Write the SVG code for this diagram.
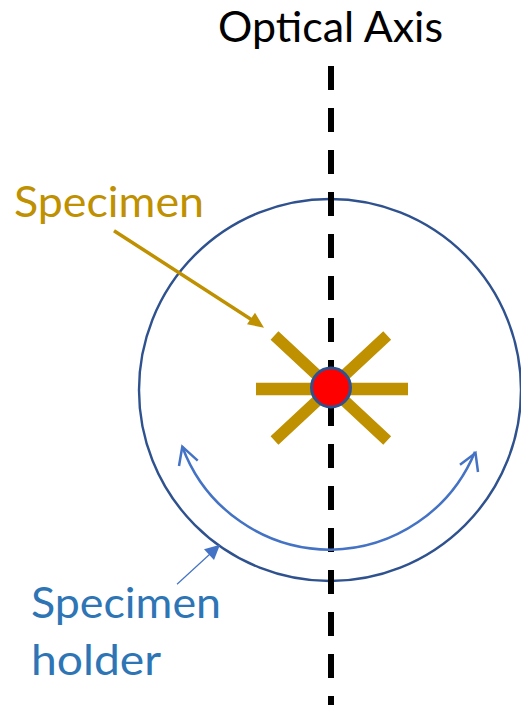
<svg xmlns="http://www.w3.org/2000/svg" width="521" height="708" viewBox="0 0 521 708">
<style>
text{font-family:Lato,"Open Sans",sans-serif;font-size:42px}
.gold{stroke:#BF9000;fill:none}
.blue{stroke:#4472C4;fill:none}
</style>
<rect width="521" height="708" fill="#fff"/>
<g id="holder"><circle cx="330" cy="390" r="191" fill="none" stroke="#2F528F" stroke-width="2.400"/></g>
<g id="axis"><line x1="331" y1="66" x2="331" y2="705" stroke="#000" stroke-width="6" stroke-dasharray="24 18"/></g>
<g id="specimen">
<path class="gold" stroke-width="12.500" d="M256 389H408"/>
<path class="gold" stroke-width="11.500" d="M274.500 335.500L387.200 440.500M387.200 335.500L274.500 440.500"/>
<circle cx="331" cy="387.500" r="19.500" fill="#FF0000" stroke="#2F528F" stroke-width="3"/>
</g>
<g id="connectors">
<path class="gold" stroke-width="3.500" d="M114 230.700L256 322.500"/>
<polygon points="264,327.700 255,312.700 247,324.300" fill="#BF9000"/>
<path class="blue" stroke-width="1.200" d="M177 584.300L210 554"/>
<polygon points="220,544.700 204,549.300 214,560" fill="#4472C4"/>
<path class="blue" stroke-width="2.500" d="M182.300 446.700A158 158 0 0 0 331 549.700A158 158 0 0 0 475 451.700"/>
<path class="blue" stroke-width="2.500" d="M179 466L182.300 446.700L197.700 460.700M460 464.700L475.500 453L478 472"/>
</g>
<g id="label-axis"><text x="218" y="42" fill="#000" textLength="225" lengthAdjust="spacingAndGlyphs">Optical Axis</text></g>
<g id="label-specimen"><text x="14" y="217" fill="#BF9000" textLength="190" lengthAdjust="spacingAndGlyphs">Specimen</text></g>
<g id="label-holder"><text x="31" y="618" fill="#2E75B6" textLength="190" lengthAdjust="spacingAndGlyphs">Specimen</text><text x="31" y="675" fill="#2E75B6" textLength="130" lengthAdjust="spacingAndGlyphs">holder</text></g>
</svg>
